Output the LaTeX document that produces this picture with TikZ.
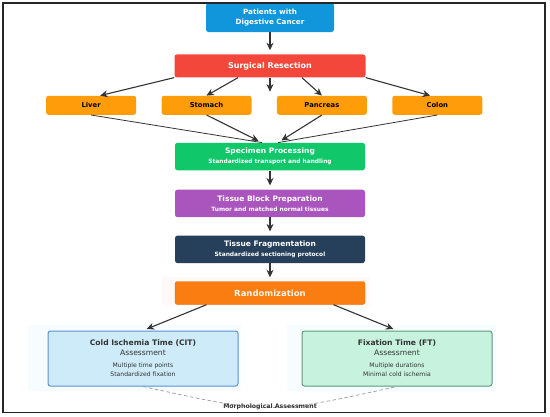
\documentclass[tikz,border=0pt]{standalone}
\usepackage{fontspec}
\setmainfont{DejaVu Sans}
\usepackage{xcolor}
\usetikzlibrary{positioning,arrows.meta,calc}

\definecolor{patblue}{HTML}{1296DB}
\definecolor{surgred}{HTML}{F4473C}
\definecolor{organor}{HTML}{FF9C0A}
\definecolor{specgreen}{HTML}{10C86A}
\definecolor{blockpurp}{HTML}{AA55BE}
\definecolor{fragnavy}{HTML}{26405B}
\definecolor{randor}{HTML}{FA7D12}
\definecolor{citfill}{HTML}{CDEBF8}
\definecolor{citline}{HTML}{5C8FD4}
\definecolor{ftfill}{HTML}{C7F2DE}
\definecolor{ftline}{HTML}{5E9A7C}
\definecolor{ink}{HTML}{333333}

\newcommand{\subtxt}[1]{{\fontsize{5.9}{7}\selectfont\bfseries #1}}
\newcommand{\itemtxt}[1]{{\fontsize{6.1}{7}\selectfont #1}}

\begin{document}
\begin{tikzpicture}[x=1pt, y=-1pt,
  box/.style={rounded corners=2.5pt, text=white, align=center, inner sep=1pt,
    font=\fontsize{7.5}{10}\selectfont\bfseries},
  stage/.style={box, minimum width=190pt, minimum height=27.5pt},
  organ/.style={box, fill=organor, text=black, minimum width=90pt, minimum height=19pt,
    font=\fontsize{6.8}{8}\selectfont\bfseries},
  assess/.style={rounded corners=2.5pt, line width=1pt, align=center, text=ink,
    minimum width=190pt, minimum height=55pt, font=\fontsize{7.6}{9.5}\selectfont},
  arr/.style={-{Stealth[length=7.5pt, width=7pt]}, line width=1.1pt, ink, shorten >=4pt},
  link/.style={line width=0.8pt, ink}
]
\useasboundingbox (0,0) rectangle (550,416);

% halos
\fill[cyan!3] (28,325) rectangle (241,391);
\fill[cyan!3] (287,325) rectangle (496,391);
\fill[pink!10] (162,277) rectangle (370,306);

\node[box, fill=patblue, minimum width=128pt, minimum height=29pt,
  font=\fontsize{7.2}{9.6}\selectfont\bfseries] (patients) at (270,17.5)
  {Patients with\\Digestive Cancer};
\node[box, fill=surgred, minimum width=191pt, minimum height=23pt,
  font=\fontsize{8}{10}\selectfont\bfseries, below=22pt of patients] (surgical)
  {Surgical Resection};

\node[organ, below left=18pt and 38pt of surgical.south west, anchor=north east] (liver) {Liver};
\node[organ, right=25pt of liver] (stomach) {Stomach};
\node[organ, right=25pt of stomach] (pancreas) {Pancreas};
\node[organ, right=25pt of pancreas] (colon) {Colon};
\coordinate[below=14pt of surgical.south] (gap);

\node[stage, fill=specgreen, below=65pt of surgical] (specimen)
  {Specimen Processing\\\subtxt{Standardized transport and handling}};
\node[stage, fill=blockpurp, below=19pt of specimen] (block)
  {Tissue Block Preparation\\\subtxt{Tumor and matched normal tissues}};
\node[stage, fill=fragnavy, below=18pt of block] (frag)
  {Tissue Fragmentation\\\subtxt{Standardized sectioning protocol}};
\node[box, fill=randor, draw=randor!85!black, line width=0.4pt, minimum width=190pt,
  minimum height=23pt, text=white!92!orange, font=\fontsize{8.5}{10}\selectfont\bfseries,
  below=18pt of frag] (random) {Randomization};

\node[assess, fill=citfill, draw=citline] (cit) at (143,358.5)
  {\textbf{Cold Ischemia Time (CIT)}\\Assessment\\[2.5pt]
   \itemtxt{Multiple time points}\\\itemtxt{Standardized fixation}};
\node[assess, fill=ftfill, draw=ftline] (ft) at (397,358.5)
  {\textbf{Fixation Time (FT)}\\Assessment\\[2.5pt]
   \itemtxt{Multiple durations}\\\itemtxt{Minimal cold ischemia}};

\draw[arr] (patients) -- (surgical);
\draw[arr, shorten >=0pt] (surgical.south west) -- ($(liver.north west)!0.6!(liver.north east)$);
\draw[arr, shorten >=0pt] ($(surgical.south west)!1/3!(surgical.south east)$) -- (stomach.north);
\draw[arr, shorten >=0pt] (surgical.south) -- (gap);
\draw[arr, shorten >=0pt] ($(surgical.south west)!2/3!(surgical.south east)$) -- (pancreas.north);
\draw[arr, shorten >=0pt] (surgical.south east) -- ($(colon.north west)!0.42!(colon.north east)$);

\draw[link] (liver.south) -- ([xshift=-8pt]specimen.north);
\draw[arr] (stomach.south) -- ([xshift=-8pt]specimen.north);
\draw[link] (colon.south) -- ([xshift=8pt]specimen.north);
\draw[arr] (pancreas.south) -- ([xshift=8pt]specimen.north);

\draw[arr] (specimen) -- (block);
\draw[arr] (block) -- (frag);
\draw[arr] (frag) -- (random);
\draw[arr] ($(random.south west)!1/6!(random.south east)$) -- (cit.north);
\draw[arr] ($(random.south west)!5/6!(random.south east)$) -- (ft.north);

\draw[dashed, gray!80, line width=0.7pt, dash pattern=on 3.5pt off 2.5pt]
  (cit.south) .. controls ($(cit.south)!0.5!(ft.south)+(0,28)$) .. (ft.south);
\node[text=ink, font=\fontsize{6.2}{7}\selectfont\bfseries] (morph) at (270,406.5)
  {Morphological Assessment};

\draw[line width=1.5pt, black!85] (3,3) rectangle (545,412.5);
\end{tikzpicture}
\end{document}
